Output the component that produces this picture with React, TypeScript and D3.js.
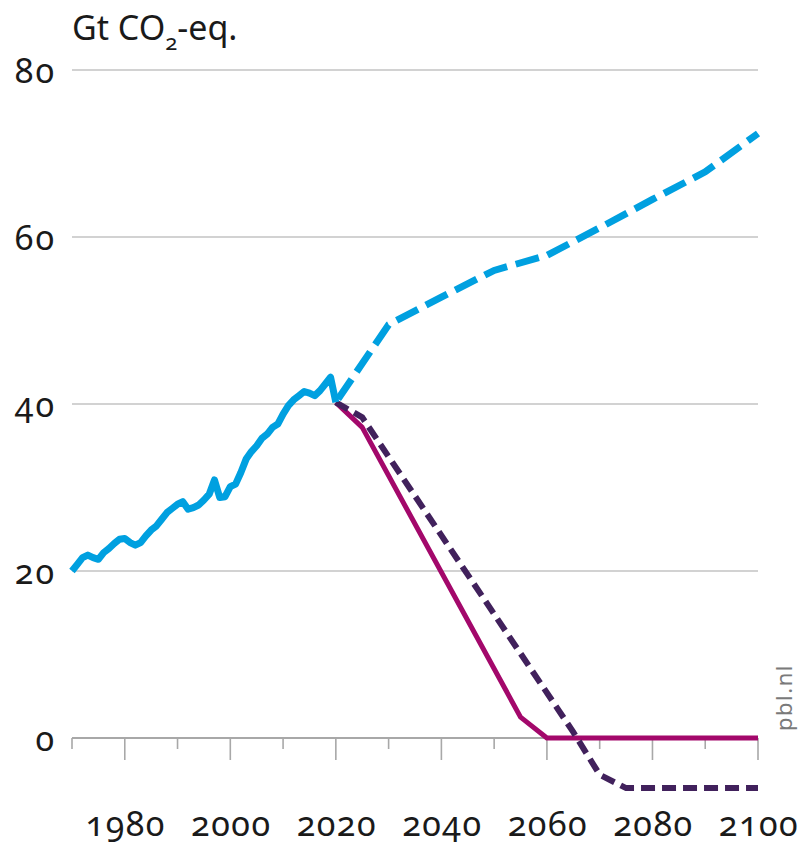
import React from "react";
import * as d3 from "d3";

const histYears = d3.range(1970, 2021);
const histValues = [
  20.0, 20.8, 21.6, 21.9, 21.6, 21.4, 22.2, 22.7, 23.3, 23.8,
  23.9, 23.4, 23.1, 23.4, 24.2, 24.9, 25.4, 26.2, 27.0, 27.5,
  28.0, 28.3, 27.4, 27.6, 27.9, 28.5, 29.2, 30.9, 28.8, 28.9,
  30.1, 30.4, 31.8, 33.4, 34.3, 35.0, 35.9, 36.4, 37.2, 37.6,
  38.8, 39.8, 40.5, 41.0, 41.5, 41.3, 41.0, 41.6, 42.4, 43.2,
  40.2,
];
const baselineYears = [2020, 2030, 2040, 2050, 2060, 2070, 2080, 2090, 2100];
const baselineValues = [40.2, 49.5, 52.8, 56.0, 57.8, 61.1, 64.5, 67.8, 72.4];
const solidYears = [2020, 2025, 2055, 2060, 2100];
const solidValues = [40.2, 37.2, 2.5, 0, 0];
const dashYears = [2020, 2025, 2065, 2070, 2075, 2100];
const dashValues = [40.2, 38.4, 0.7, -4.4, -6.0, -6.0];
const yTicks = [0, 20, 40, 60, 80];
const xTickYears = d3.range(1970, 2101, 10);
const xLabelYears = [1980, 2000, 2020, 2040, 2060, 2080, 2100];

const FONT = "'Noto Sans', sans-serif";

export default function App() {
  const x = d3.scaleLinear().domain([1970, 2100]).range([72, 758]);
  const y = d3.scaleLinear().domain([0, 80]).range([738, 70]);
  const line = d3
    .line<[number, number]>()
    .x((d) => x(d[0]))
    .y((d) => y(d[1]));
  const zip = (a: number[], b: number[]) => a.map((v, i) => [v, b[i]] as [number, number]);

  const textStyle: React.CSSProperties = {
    fontFamily: FONT,
    fontVariantNumeric: "oldstyle-nums",
    fontFeatureSettings: "'onum' 1",
  };

  return (
    <svg
      width={801}
      height={848}
      style={{ position: "absolute", left: 0, top: 0, background: "#fff" }}
    >
      {yTicks
        .filter((t) => t !== 0)
        .map((t) => (
          <line key={t} x1={x(1970)} x2={x(2100)} y1={y(t)} y2={y(t)} stroke="#d2d2d2" strokeWidth={2} />
        ))}
      <line x1={x(1970)} x2={x(2100)} y1={y(0)} y2={y(0)} stroke="#a8a8a8" strokeWidth={2} />
      {xTickYears.map((yr) => (
        <line
          key={yr}
          x1={x(yr)}
          x2={x(yr)}
          y1={y(0)}
          y2={y(0) + (xLabelYears.includes(yr) ? 22 : 11)}
          stroke="#a8a8a8"
          strokeWidth={1.6}
        />
      ))}
      {yTicks.map((t) => (
        <text key={t} x={56} y={y(t) + 13} textAnchor="end" fontSize={34} letterSpacing={2} fill="#1a1a1a" style={textStyle}>
          {t}
        </text>
      ))}
      {xLabelYears.map((yr) => (
        <text key={yr} x={x(yr) + 1} y={836} textAnchor="middle" fontSize={34} letterSpacing={1.5} fill="#1a1a1a" style={textStyle}>
          {yr}
        </text>
      ))}
      <text x={72} y={40} fontSize={34} fill="#1a1a1a" style={textStyle}>
        Gt CO
        <tspan dy={10} fontSize={22}>2</tspan>
        <tspan dy={-10}>-eq.</tspan>
      </text>
      <text
        transform="translate(792,731) rotate(-90)"
        fontSize={22}
        letterSpacing={1.5}
        fill="#7a7a7a"
        style={{ fontFamily: FONT }}
      >
        pbl.nl
      </text>

      <path d={line(zip(solidYears, solidValues)) || ""} fill="none" stroke="#a3086b" strokeWidth={5} strokeLinejoin="round" />
      <path
        d={line(zip(dashYears, dashValues)) || ""}
        fill="none"
        stroke="#41215c"
        strokeWidth={6}
        strokeDasharray="14 7"
      />
      <path
        d={line(zip(baselineYears, baselineValues)) || ""}
        fill="none"
        stroke="#00a0e0"
        strokeWidth={7}
        strokeDasharray="24 9"
        strokeDashoffset={-4}
      />
      <path
        d={line(zip(histYears, histValues)) || ""}
        fill="none"
        stroke="#00a0e0"
        strokeWidth={7}
        strokeLinejoin="round"
      />
    </svg>
  );
}
